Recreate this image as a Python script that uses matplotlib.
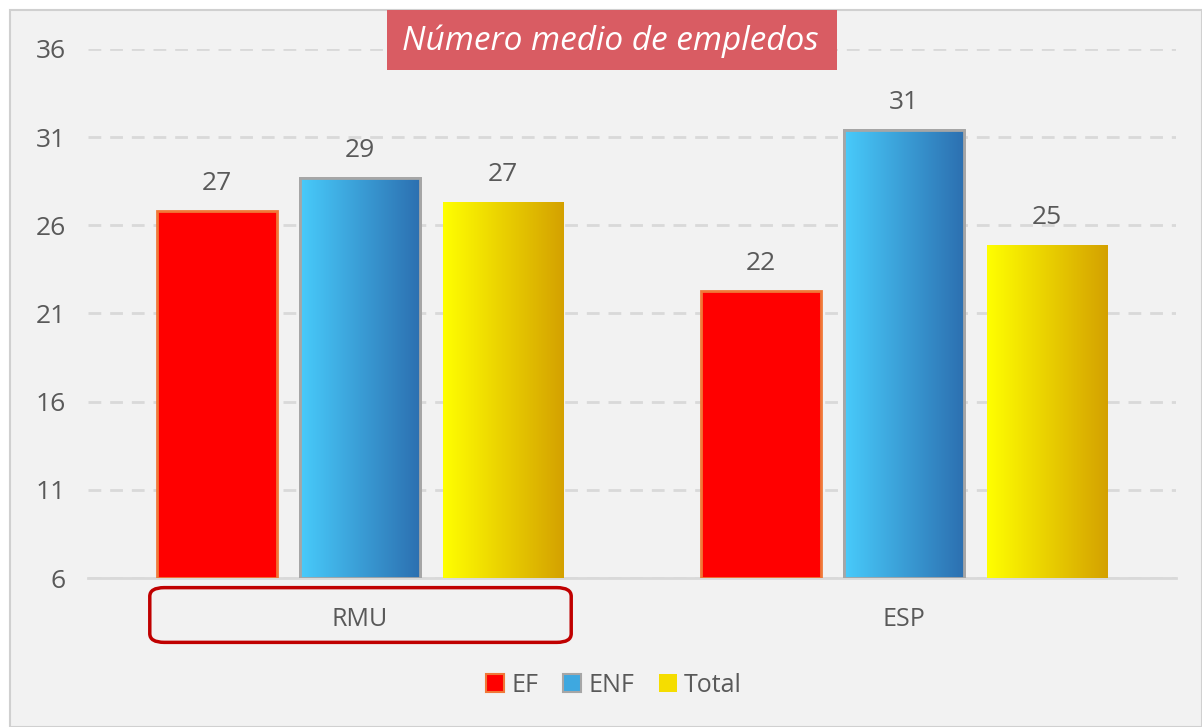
import numpy as np
import matplotlib.pyplot as plt
from matplotlib.patches import Rectangle, FancyBboxPatch, Patch
from matplotlib.colors import LinearSegmentedColormap

plt.rcParams['font.family'] = ['Open Sans', 'DejaVu Sans']

# datos
categorias = ['RMU', 'ESP']
series = ['EF', 'ENF', 'Total']
valores_ef = [26.8, 22.3]
valores_enf = [28.7, 31.4]
valores_total = [27.3, 24.9]
etiquetas_ef = ['27', '22']
etiquetas_enf = ['29', '31']
etiquetas_total = ['27', '25']
yticks = [6, 11, 16, 21, 26, 31, 36]

W, H = 1202, 727
fig = plt.figure(figsize=(W / 100, H / 100), dpi=100, facecolor='white')

# fondo gris del area del grafico
fig.patches.append(Rectangle((10 / W, 0), 1 - 10 / W, 1 - 10 / H, transform=fig.transFigure,
                             facecolor='#f2f2f2', edgecolor='#d0d0d0', lw=1.5, zorder=-5))

ax = fig.add_axes([88 / W, 1 - 578 / H, (1176 - 88) / W, (578 - 49) / H])
ax.set_facecolor('none')
ax.set_zorder(1)
ax.set_xlim(-0.5, 1.5)
ax.set_ylim(6, 36)

x = np.arange(len(categorias))
ancho = 0.222
paso = 0.263

cmap_enf = LinearSegmentedColormap.from_list('enf', ['#48cbfb', '#2c6fb0'])
cmap_tot = LinearSegmentedColormap.from_list('tot', ['#ffff00', '#d4a100'])
grad = np.linspace(0, 1, 256).reshape(1, -1)

def barras(pos, vals, etiquetas, color, borde, cmap=None):
    bs = ax.bar(pos, np.array(vals) - 6, ancho, bottom=6, color=color,
                edgecolor=borde, linewidth=2 if borde != 'none' else 0, zorder=3)
    for b, et in zip(bs, etiquetas):
        if cmap is not None:
            x0 = b.get_x()
            im = ax.imshow(grad, cmap=cmap, aspect='auto', zorder=3.5,
                           extent=[x0, x0 + b.get_width(), 6, b.get_y() + b.get_height()])
            im.set_clip_path(b)
            # borde encima del degradado
            if borde != 'none':
                ax.add_patch(Rectangle((x0, 6), b.get_width(), b.get_height(), fill=False,
                                       edgecolor=borde, lw=2, zorder=4))
        ax.text(b.get_x() + b.get_width() / 2, b.get_y() + b.get_height() + 0.85, et,
                ha='center', va='bottom', fontsize=19, color='#595959')

barras(x - paso, valores_ef, etiquetas_ef, '#ff0000', '#f07838')
barras(x, valores_enf, etiquetas_enf, '#3ea8e0', '#a6a6a6', cmap_enf)
barras(x + paso, valores_total, etiquetas_total, '#f0d000', 'none', cmap_tot)

ax.set_xlim(-0.5, 1.5)
ax.set_ylim(6, 36)
ax.set_yticks(yticks)
ax.set_yticklabels([str(v) for v in yticks])
ax.set_xticks(x)
ax.set_xticklabels(categorias)
ax.tick_params(axis='both', length=0, labelcolor='#595959')
ax.tick_params(axis='y', pad=16, labelsize=19)
ax.tick_params(axis='x', pad=21, labelsize=18)
ax.grid(axis='y', color='#d9d9d9', linestyle=(0, (4.6, 3.2)), linewidth=2, zorder=0)
for s in ['top', 'right', 'left']:
    ax.spines[s].set_visible(False)
ax.spines['bottom'].set_color('#d9d9d9')
ax.spines['bottom'].set_linewidth(2)

# recuadro rojo alrededor de RMU
fig.patches.append(FancyBboxPatch((157 / W, 1 - 638 / H), (564 - 157) / W, 46 / H,
                                  boxstyle='round,pad=0.006,rounding_size=0.012',
                                  transform=fig.transFigure, facecolor='none',
                                  edgecolor='#c00000', lw=2.5, zorder=5))

# titulo
fig.patches.append(Rectangle((387 / W, 1 - 70 / H), 450 / W, 60 / H, transform=fig.transFigure,
                             facecolor='#d95c63', edgecolor='none', zorder=5))
fig.text(610 / W, 1 - 41 / H, 'Número medio de empledos', ha='center', va='center',
         fontsize=24, style='italic', color='white', zorder=6)

handles = [Patch(facecolor='#ff0000', edgecolor='#f07838', lw=1.5),
           Patch(facecolor='#3ea8e0', edgecolor='#a6a6a6', lw=1.5),
           Patch(facecolor='#f5dd00', edgecolor='none')]
fig.legend(handles, series, loc='center', bbox_to_anchor=(614 / W, 1 - 685 / H), ncol=3,
           frameon=False, fontsize=18, labelcolor='#595959', handlelength=0.7,
           handleheight=0.7, handletextpad=0.3, columnspacing=1.0)

fig.savefig('out.png', dpi=100, facecolor=fig.get_facecolor())
